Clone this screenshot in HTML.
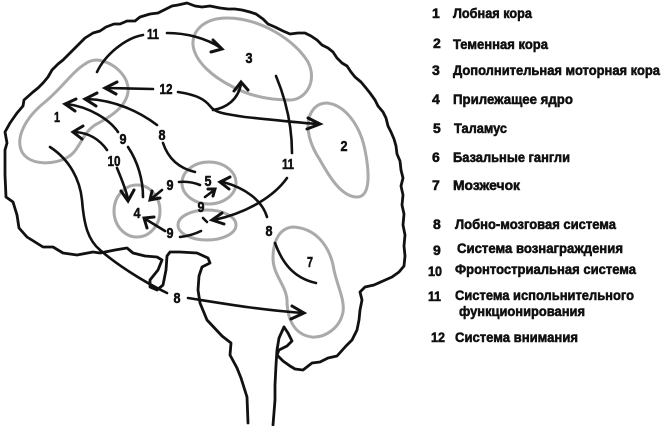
<!DOCTYPE html>
<html><head><meta charset="utf-8"><style>
html,body{margin:0;padding:0;background:#fff;}
svg{display:block;}
.o{fill:none;stroke:#111;stroke-width:2.8;stroke-linejoin:round;stroke-linecap:round;}
.g{fill:none;stroke:#aaa;stroke-width:3;}
.a{fill:none;stroke:#111;stroke-width:2.6;stroke-linecap:round;stroke-linejoin:round;}
.h{fill:none;stroke:#111;stroke-width:3;stroke-linecap:round;stroke-linejoin:miter;}
text{font-family:"Liberation Sans Narrow","Liberation Sans",sans-serif;font-weight:bold;fill:#111;stroke:#111;stroke-width:0.55;}
.n{font-size:15px;text-anchor:middle;}
.l{font-size:14px;}
</style></head><body>
<svg width="662" height="426" viewBox="0 0 662 426" xmlns="http://www.w3.org/2000/svg">
<!-- gray regions -->
<path class="g" d="M97,60 C115,62 130,78 128,92 C126,108 108,118 95,125 C82,133 80,150 68,157 C55,165 30,166 22,152 C15,138 25,118 45,102 C62,88 72,72 85,64 C89,61 93,60 97,60 Z"/>
<path class="g" d="M227,18 C260,18 295,40 308,62 C318,82 305,100 290,100 C270,100 250,96 233,87 C213,77 195,62 193,45 C192,30 205,18 227,18 Z"/>
<path class="g" d="M327,103 C345,105 360,125 365,150 C370,175 370,197 357,197 C342,197 330,178 320,160 C310,145 305,128 310,115 C314,106 320,103 327,103 Z"/>
<path class="g" d="M293,227 C315,228 330,245 334,270 C337,285 345,300 343,312 C340,328 325,338 312,337 C295,335 287,320 287,300 C286,285 273,275 273,258 C273,240 280,228 293,227 Z"/>
<ellipse class="g" cx="209" cy="183" rx="27" ry="21"/>
<ellipse class="g" cx="207" cy="225" rx="29" ry="15"/>
<ellipse class="g" cx="137" cy="211" rx="23" ry="26"/>

<!-- brain outline -->
<path class="o" d="M248,423 L247,397 L241,378 L237,368 L230,355 L231,343 L222,336 L207,320 L200,303 L198,290 L199,276 L202,267 L210,263 L208,258 L197,253 L180,252 L170,252 L167,256 L166,270 L163,285 L157,290 L150,287 L150,280 L158,270 L162,260 L157,257 L145,256 L133,253 L127,248 L115,250 L100,253 L93,252 L77,255 L63,253 L53,247 L43,247 L35,242 L27,237 L19,228 L17,215 L13,202 L6,197 L5,175 L5,150 L7,143 L5,132 L10,123 L17,113 L23,106 L24,100 L33,92 L38,88 L43,83 L48,77 L52,70 L58,64 L63,60 L67,56 L73,50 L80,43 L85,38 L93,33 L100,31 L106,27 L114,24 L120,24 L127,21 L135,21 L140,17 L150,14 L158,13 L166,9 L172,6 L178,5 L187,3 L195,6 L202,7 L210,6 L220,8 L228,9 L235,9 L242,10 L250,12 L256,14 L263,19 L268,24 L275,27 L283,31 L290,34 L298,33 L305,33 L311,36 L317,40 L322,45 L328,48 L333,52 L337,58 L342,63 L347,66 L351,72 L355,77 L361,82 L366,88 L370,93 L375,100 L378,106 L383,112 L386,118 L388,126 L391,132 L394,139 L396,146 L397,154 L400,161 L401,170 L403,178 L401,186 L403,195 L402,205 L404,214 L403,225 L405,235 L404,246 L405,256 L404,266 L399,272 L392,277 L383,281 L374,285 L365,287 L360,292 L362,300 L360,310 L359,320 L357,330 L352,340 L346,346 L337,356 L328,358 L320,362 L312,363 L303,370 L295,369 L290,366 L283,361 L277,355 L279,350 L287,346 L292,341 L288,333 L284,327"/>
<path class="o" d="M284,327 L279,338 L277,350 L276,365 L275,385 L275,400 L273,425"/>

<!-- 11 top -->
<path class="a" d="M97,72 C105,55 125,38 143,35"/>
<path class="a" d="M167,33 C186,33 206,38 221,48"/>
<path class="h" d="M213,40 L222,49 L211,52"/>
<!-- 12 -->
<path class="a" d="M153,89 L107,88"/>
<path class="h" d="M117,82 L105,88 L116,94"/>
<path class="a" d="M178,92 C198,95 205,100 210,106 C215,113 225,114 245,117 C275,120 300,123 319,124"/>
<path class="h" d="M308,118 L320,124 L307,129"/>
<path class="a" d="M213,110 C226,108 238,100 241,84"/>
<path class="h" d="M234,91 L241,82 L248,90"/>
<!-- 8 upper -->
<path class="a" d="M157,125 C140,112 115,100 87,99"/>
<path class="h" d="M97,93 L85,99 L96,106"/>
<path class="a" d="M163,143 C168,158 178,168 195,172"/>
<!-- 9 upper -->
<path class="a" d="M118,132 C110,120 90,107 67,104"/>
<path class="h" d="M76,99 L65,104 L75,111"/>
<path class="a" d="M128,147 C138,162 143,180 143,197"/>
<!-- 10 -->
<path class="a" d="M107,150 C100,140 90,133 75,132"/>
<path class="h" d="M83,126 L73,132 L82,139"/>
<path class="a" d="M117,168 C122,180 126,190 128,199"/>
<path class="h" d="M121,191 L128,201 L134,190"/>
<!-- 9 near 5 -->
<path class="a" d="M179,182 C188,181 195,183 200,185"/>
<path class="a" d="M162,190 L151,199"/>
<path class="h" d="M152,191 L150,200 L160,198"/>
<!-- 9 between 5,6 -->
<path class="a" d="M205,197 L213,191"/>
<path class="h" d="M208,189 L215,189 L213,196"/>
<path class="a" d="M203,218 L207,222"/>
<!-- 9 lower -->
<path class="a" d="M165,231 L147,220"/>
<path class="h" d="M147,228 L144,218 L154,217"/>
<path class="a" d="M180,237 C188,236 195,234 201,231"/>
<!-- 11 right -->
<path class="a" d="M276,76 C286,100 292,125 292,153"/>
<path class="a" d="M287,178 C275,195 250,212 214,220"/>
<path class="h" d="M222,213 L212,220 L224,224"/>
<!-- 8 right -->
<path class="a" d="M267,217 C262,200 245,188 223,182"/>
<path class="h" d="M230,177 L220,182 L229,189"/>
<path class="a" d="M275,243 C282,262 293,278 316,283"/>
<!-- 8 bottom -->
<path class="a" d="M50,147 C70,160 80,180 82,200 C84,225 88,240 100,250 C115,263 140,280 167,293"/>
<path class="a" d="M188,298 C220,303 260,310 303,313"/>
<path class="h" d="M292,306 L304,313 L291,319"/>

<!-- diagram labels -->
<text class="n" x="153" y="39" textLength="12" lengthAdjust="spacingAndGlyphs">11</text>
<text class="n" x="249" y="63" textLength="7" lengthAdjust="spacingAndGlyphs">3</text>
<text class="n" x="166" y="94" textLength="13" lengthAdjust="spacingAndGlyphs">12</text>
<text class="n" x="57" y="122" textLength="6" lengthAdjust="spacingAndGlyphs">1</text>
<text class="n" x="123" y="144" textLength="7" lengthAdjust="spacingAndGlyphs">9</text>
<text class="n" x="162" y="140" textLength="7" lengthAdjust="spacingAndGlyphs">8</text>
<text class="n" x="114" y="166" textLength="13" lengthAdjust="spacingAndGlyphs">10</text>
<text class="n" x="344" y="151" textLength="7" lengthAdjust="spacingAndGlyphs">2</text>
<text class="n" x="288" y="169" textLength="12" lengthAdjust="spacingAndGlyphs">11</text>
<text class="n" x="208" y="186" textLength="7" lengthAdjust="spacingAndGlyphs">5</text>
<text class="n" x="170" y="190" textLength="7" lengthAdjust="spacingAndGlyphs">9</text>
<text class="n" x="201" y="212" textLength="7" lengthAdjust="spacingAndGlyphs">9</text>
<text class="n" x="137" y="218" textLength="7" lengthAdjust="spacingAndGlyphs">4</text>
<text class="n" x="170" y="238" textLength="7" lengthAdjust="spacingAndGlyphs">9</text>
<text class="n" x="269" y="236" textLength="7" lengthAdjust="spacingAndGlyphs">8</text>
<text class="n" x="310" y="267" textLength="6" lengthAdjust="spacingAndGlyphs">7</text>
<text class="n" x="177" y="303" textLength="7" lengthAdjust="spacingAndGlyphs">8</text>

<!-- legend -->
<g class="l">
<text x="432" y="18">1</text><text x="453" y="18" textLength="79" lengthAdjust="spacingAndGlyphs">Лобная кора</text>
<text x="433" y="48">2</text><text x="453" y="49" textLength="95" lengthAdjust="spacingAndGlyphs">Теменная кора</text>
<text x="432" y="75">3</text><text x="453" y="75" textLength="207" lengthAdjust="spacingAndGlyphs">Дополнительная моторная кора</text>
<text x="432" y="104">4</text><text x="453" y="104" textLength="120" lengthAdjust="spacingAndGlyphs">Прилежащее ядро</text>
<text x="433" y="133">5</text><text x="454" y="133" textLength="53" lengthAdjust="spacingAndGlyphs">Таламус</text>
<text x="432" y="162">6</text><text x="453" y="162" textLength="117" lengthAdjust="spacingAndGlyphs">Базальные гангли</text>
<text x="432" y="190">7</text><text x="453" y="190" textLength="67" lengthAdjust="spacingAndGlyphs">Мозжечок</text>
<text x="433" y="229">8</text><text x="455" y="229" textLength="161" lengthAdjust="spacingAndGlyphs">Лобно-мозговая система</text>
<text x="433" y="255">9</text><text x="457" y="253" textLength="166" lengthAdjust="spacingAndGlyphs">Система вознаграждения</text>
<text x="428" y="276" textLength="14" lengthAdjust="spacingAndGlyphs">10</text><text x="455" y="274" textLength="181" lengthAdjust="spacingAndGlyphs">Фронтостриальная система</text>
<text x="428" y="301" textLength="13" lengthAdjust="spacingAndGlyphs">11</text><text x="455" y="300" textLength="179" lengthAdjust="spacingAndGlyphs">Система испольнительного</text>
<text x="459" y="316" textLength="126" lengthAdjust="spacingAndGlyphs">функционирования</text>
<text x="431" y="342" textLength="14" lengthAdjust="spacingAndGlyphs">12</text><text x="455" y="342" textLength="123" lengthAdjust="spacingAndGlyphs">Система внимания</text>
</g>
</svg>
</body></html>
